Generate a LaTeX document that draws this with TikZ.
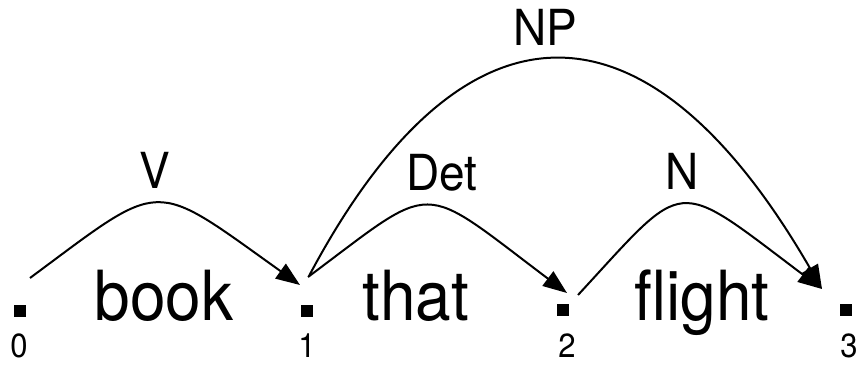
\documentclass[tikz,border=0pt]{standalone}
\usepackage{fontspec}
\setmainfont{TeX Gyre Heros}
\usetikzlibrary{arrows.meta,positioning}

\begin{document}
\begin{tikzpicture}[x=1pt,y=1pt,
  vtx/.style={rectangle,fill=black,inner sep=0pt,minimum size=12pt},
  idx/.style={anchor=base,inner sep=0pt,yscale=1.08,font=\fontsize{31}{31}\selectfont},
  word/.style={anchor=base,inner sep=0pt,yscale=1.08,font=\fontsize{64}{64}\selectfont},
  cat/.style={above=14pt,inner sep=0pt,yscale=1.08,font=\fontsize{46}{46}\selectfont},
  arc/.style={line width=2pt,-{Triangle[length=24pt,width=18pt]}}]
\useasboundingbox (0,0) rectangle (858,364);

% --- chart vertices with their indices ---
\foreach \i/\x/\y/\nx in {0/20/53/19,1/307/53/307,2/563/54/567,3/846/54/849}{
  \node[vtx] (d\i) at (\x,\y) {};
  \node[idx] (n\i) at (\nx,7) {\i};
}

% --- the words between the vertices ---
\node[word] (book)   at (164,44) {book};
\node[word] (that)   at (416,44) {that};
\node[word] (flight) at (702,44) {flight};

% --- edges of the chart ---
\draw[arc] ([shift={(10,33)}]d0.center) .. controls +(135,100) and +(-150,107) ..
  ([shift={(-7,26)}]d1.center) node[cat,midway,xshift=-5pt] (eV) {V};
\draw[arc] ([shift={(1,34)}]d1.center) .. controls +(130,97) and +(-150,113) ..
  ([shift={(4,17)}]d2.center) node[cat,midway,xshift=12pt] (eDet) {Det};
\draw[arc] ([shift={(15,15)}]d2.center) .. controls +(110,119) and +(-150,113) ..
  ([shift={(-24,21)}]d3.center) node[cat,midway,xshift=-3pt] (eN) {N};
\draw[arc] ([shift={(2,35)}]d1.center) .. controls +(154,290) and +(-175,303) ..
  ([shift={(-24,21)}]d3.center) node[cat,midway,xshift=-12pt] (eNP) {NP};

\end{tikzpicture}
\end{document}
